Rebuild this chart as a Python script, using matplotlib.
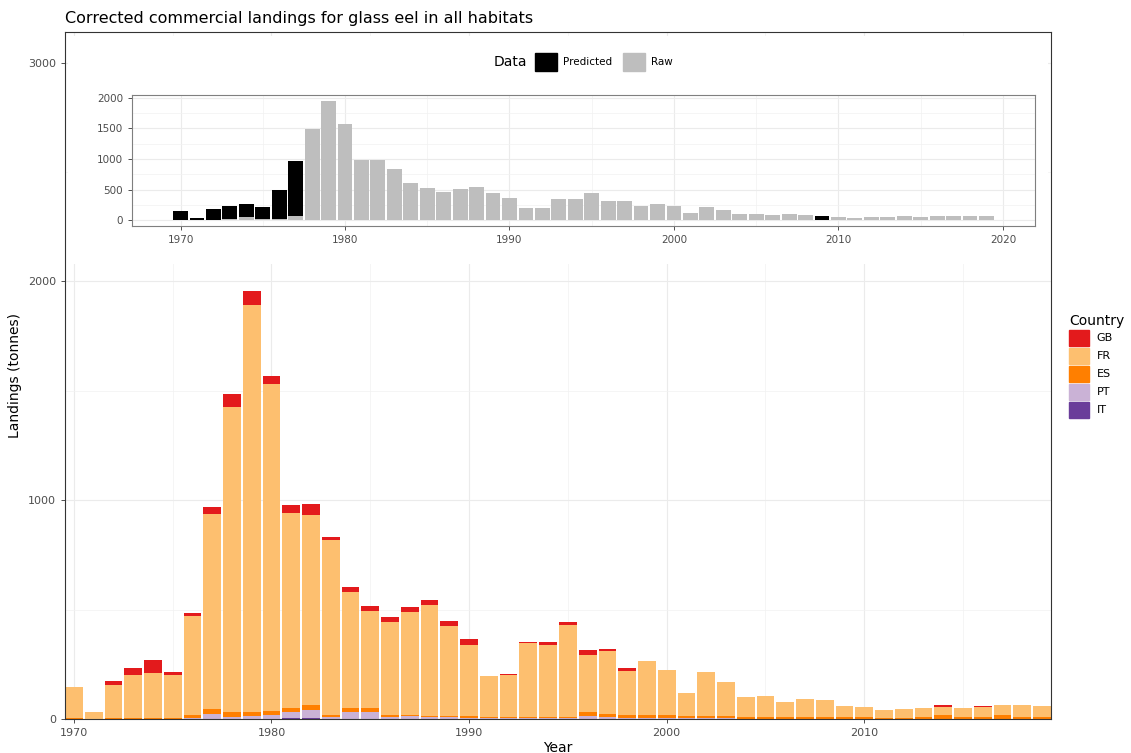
import numpy as np
import matplotlib
matplotlib.use("Agg")
import matplotlib.pyplot as plt
from matplotlib.patches import Patch, Rectangle

years = list(range(1970, 2020))

# total landings per year (tonnes)
total = [146, 32, 174, 233, 270, 215, 485, 971, 1486, 1957,
         1570, 979, 983, 834, 605, 517, 466, 514, 544, 450,
         366, 198, 205, 352, 350, 445, 316, 320, 235, 265,
         224, 118, 215, 169, 101, 105, 77, 91, 87, 59,
         56, 41, 46, 52, 64, 52, 59, 65, 64, 59]
gb = [2, 0, 19, 32, 60, 14, 14, 34, 59, 67,
      38, 37, 50, 16, 25, 23, 21, 23, 23, 23,
      26, 0, 4, 4, 12, 16, 22, 10, 16, 0,
      0, 0, 0, 0, 0, 0, 0, 0, 0, 0,
      0, 0, 0, 3, 8, 2, 3, 2, 1, 1]
es = [3, 2, 3, 3, 3, 3, 15, 22, 22, 18,
      18, 15, 20, 10, 18, 20, 8, 8, 8, 8,
      8, 5, 5, 5, 5, 5, 20, 15, 15, 15,
      12, 12, 10, 10, 5, 5, 5, 5, 5, 5,
      5, 4, 4, 5, 15, 5, 5, 15, 5, 5]
pt = [0, 0, 0, 0, 0, 0, 5, 20, 8, 12,
      15, 30, 40, 5, 30, 28, 8, 10, 5, 5,
      3, 3, 3, 3, 3, 3, 10, 5, 3, 3,
      2, 2, 2, 2, 1, 1, 1, 1, 1, 1,
      1, 1, 1, 1, 1, 1, 1, 1, 1, 1]
it = [0, 0, 0, 0, 0, 0, 0, 2, 2, 2,
      2, 3, 3, 2, 2, 2, 2, 2, 2, 2,
      2, 2, 2, 2, 2, 2, 2, 2, 2, 2,
      2, 1, 1, 1, 1, 1, 1, 1, 1, 1,
      1, 1, 1, 1, 1, 1, 1, 1, 1, 1]
fr = [t - g - e - p - i for t, g, e, p, i in zip(total, gb, es, pt, it)]

# raw part of the total; the rest was predicted
raw = [0, 0, 0, 15, 45, 10, 25, 60] + total[8:39] + [0] + total[40:]
predicted = [t - r for t, r in zip(total, raw)]

countries = ["GB", "FR", "ES", "PT", "IT"]
country_cols = {"GB": "#E31A1C", "FR": "#FDBF6F", "ES": "#FF7F00",
                "PT": "#CAB2D6", "IT": "#6A3D9A"}

W, H = 1131, 753
fig = plt.figure(figsize=(W / 100, H / 100), dpi=100)
fig.patch.set_facecolor("white")


def px_axes(x0, y0, x1, y1):
    return fig.add_axes([x0 / W, 1 - y1 / H, (x1 - x0) / W, (y1 - y0) / H])


def bw_style(ax, size):
    for s in ax.spines.values():
        s.set_color("#333333")
        s.set_linewidth(0.8)
    ax.tick_params(colors="#333333", labelcolor="#4d4d4d", labelsize=size,
                   length=3, width=0.6)
    ax.grid(which="major", color="#ebebeb", lw=0.8)
    ax.grid(which="minor", color="#f2f2f2", lw=0.5)
    ax.tick_params(which="minor", length=0)
    ax.set_axisbelow(True)


# main stacked bars
ax = px_axes(65, 32, 1051, 719)
x = np.array(years)
stack = {"IT": it, "PT": pt, "ES": es, "FR": fr, "GB": gb}
bottom = np.zeros(len(years))
for c in ["IT", "PT", "ES", "FR", "GB"]:
    vals = np.array(stack[c], dtype=float)
    ax.bar(x, vals, 0.9, bottom=bottom, color=country_cols[c], lw=0)
    bottom += vals
ax.set_xlim(1969.55, 2019.45)
ax.set_ylim(0, 3140)
ax.set_xticks([1970, 1980, 1990, 2000, 2010])
ax.set_xticks([1975, 1985, 1995, 2005, 2015], minor=True)
ax.set_yticks([0, 1000, 2000, 3000])
ax.set_yticks([500, 1500, 2500], minor=True)
bw_style(ax, 8)
ax.set_xlabel("Year", fontsize=10, labelpad=2)
ax.set_ylabel("Landings (tonnes)", fontsize=10, labelpad=4)
fig.text(65 / W, 1 - 18 / H, "Corrected commercial landings for glass eel in all habitats",
         fontsize=11.5, va="center", ha="left")

# white backdrop of the inset plot
fig.patches.append(Rectangle((68 / W, 1 - 264 / H), (1048 - 68) / W, (264 - 36) / H,
                             transform=fig.transFigure, facecolor="white",
                             edgecolor="none", zorder=1))

# inset: raw vs predicted
ins = px_axes(132, 95, 1035, 226)
ins.set_zorder(2)
ins.bar(x, raw, 0.9, color="#bebebe", lw=0)
ins.bar(x, predicted, 0.9, bottom=raw, color="black", lw=0)
ins.set_xlim(1967.05, 2021.95)
ins.set_ylim(-97.5, 2047.5)
ins.set_xticks([1970, 1980, 1990, 2000, 2010, 2020])
ins.set_xticks([1975, 1985, 1995, 2005, 2015], minor=True)
ins.set_yticks([0, 500, 1000, 1500, 2000])
ins.set_yticks([250, 750, 1250, 1750], minor=True)
bw_style(ins, 7.5)
for s in ins.spines.values():
    s.set_color("#7f7f7f")

fig.text(494 / W, 1 - 62 / H, "Data", fontsize=10, va="center", ha="left", zorder=3)
data_leg = fig.legend(handles=[Patch(color="black", label="Predicted"),
                               Patch(color="#bebebe", label="Raw")],
                      loc="center left", bbox_to_anchor=(528 / W, 1 - 62 / H),
                      ncol=2, frameon=False, fontsize=7.5, handlelength=2.1,
                      handleheight=2.2, handletextpad=0.6, columnspacing=1.0,
                      borderpad=0.2)
data_leg.set_zorder(3)

# country legend
handles = [Patch(color=country_cols[c], label=c) for c in countries]
fig.legend(handles=handles, title="Country", loc="upper left",
           bbox_to_anchor=(1061 / W, 1 - 306 / H), frameon=False,
           fontsize=8, title_fontsize=10, handlelength=1.8, handleheight=1.8,
           handletextpad=0.7, labelspacing=0.2, alignment="left", borderpad=0.2)

fig.savefig("out.png", dpi=100)
